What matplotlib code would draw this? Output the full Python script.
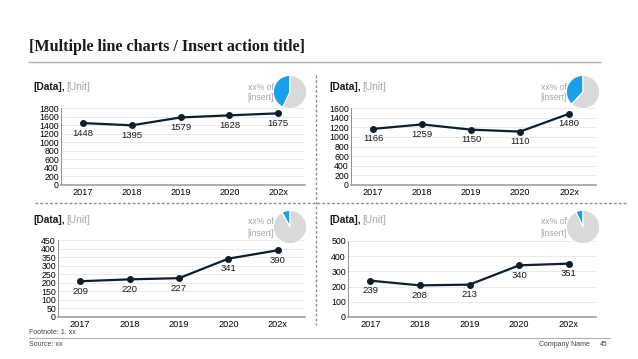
import matplotlib
matplotlib.use("Agg")
import matplotlib.pyplot as plt
from matplotlib.lines import Line2D

plt.rcParams['font.family'] = ['Liberation Sans', 'DejaVu Sans']

W, H = 638, 359

years = ["2017", "2018", "2019", "2020", "202x"]
vals_a = [1448, 1395, 1579, 1628, 1675]
vals_b = [1166, 1259, 1150, 1110, 1480]
vals_c = [209, 220, 227, 341, 390]
vals_d = [239, 208, 213, 340, 351]
ticks_a = [0, 200, 400, 600, 800, 1000, 1200, 1400, 1600, 1800]
ticks_b = [0, 200, 400, 600, 800, 1000, 1200, 1400, 1600]
ticks_c = [0, 50, 100, 150, 200, 250, 300, 350, 400, 450]
ticks_d = [0, 100, 200, 300, 400, 500]
pie_share = [0.43, 0.38, 0.08, 0.07]

NAVY = "#0e1e30"
BLUE = "#1a9fea"
LGRAY = "#d9d9d9"
TGRAY = "#a6a6a6"


def px(x, y, w, h):
    # pixel box (top-left origin) -> figure fraction
    return [x / W, 1 - (y + h) / H, w / W, h / H]


fig = plt.figure(figsize=(W / 100, H / 100), dpi=100)

fig.text(29 / W, 1 - 47 / H, "[Multiple line charts / Insert action title]",
         family="Liberation Serif", fontweight="bold", fontsize=11.6,
         va="center", ha="left", color="#1a1a1a")
fig.add_artist(Line2D([29 / W, 600 / W], [1 - 62 / H, 1 - 62 / H],
                      transform=fig.transFigure, color="#b0b0b0", lw=1))

# dashed separators
fig.add_artist(Line2D([316 / W, 316 / W], [1 - 75 / H, 1 - 325 / H],
                      transform=fig.transFigure, color="#8c8c8c", lw=1,
                      linestyle=(0, (2, 1.5))))
fig.add_artist(Line2D([35 / W, 628 / W], [1 - 203 / H, 1 - 203 / H],
                      transform=fig.transFigure, color="#8c8c8c", lw=1,
                      linestyle=(0, (2, 1.5))))

panels = [
    (vals_a, ticks_a, (61, 108, 244, 77), (33, 87), (290, 92), pie_share[0]),
    (vals_b, ticks_b, (351, 108, 245, 77), (329, 87), (583, 92), pie_share[1]),
    (vals_c, ticks_c, (58, 240, 247, 77), (33, 220), (290, 227), pie_share[2]),
    (vals_d, ticks_d, (348, 241, 248, 76), (329, 220), (583, 227), pie_share[3]),
]

for vals, ticks, box, head, pc, share in panels:
    ax = fig.add_axes(px(*box))
    x = range(len(years))
    ax.plot(x, vals, color=NAVY, lw=1.6, marker="o", ms=4, zorder=3)
    for i, v in enumerate(vals):
        ax.annotate(str(v), (i, v), xytext=(0, -4), textcoords="offset points",
                    ha="center", va="top", fontsize=6.8, color="#1a1a1a")
    ax.set_xlim(-0.45, len(years) - 0.45)
    ax.set_ylim(0, ticks[-1])
    ax.set_yticks(ticks)
    ax.set_xticks(list(x))
    ax.set_xticklabels(years)
    ax.tick_params(axis="y", length=0, labelsize=6.3, pad=1.5)
    ax.tick_params(axis="x", length=0, labelsize=6.6, pad=2)
    ax.grid(axis="y", color="#e6e6e6", lw=0.6)
    ax.set_axisbelow(True)
    for s in ["top", "right"]:
        ax.spines[s].set_visible(False)
    ax.spines["left"].set_color("#808080")
    ax.spines["left"].set_linewidth(0.6)
    ax.spines["bottom"].set_color("#a0a0a0")
    ax.spines["bottom"].set_linewidth(1.2)

    hx, hy = head
    fig.text(hx / W, 1 - hy / H, "[Data],", fontweight="bold", fontsize=7.3,
             ha="left", va="center", color="#1a1a1a")
    fig.text((hx + 33) / W, 1 - hy / H, "[Unit]", fontsize=7.3,
             ha="left", va="center", color=TGRAY)

    cx, cy = pc
    r = 17
    pax = fig.add_axes(px(cx - r, cy - r, 2 * r, 2 * r))
    pax.pie([share, 1 - share], colors=[BLUE, LGRAY], startangle=90,
            counterclock=True, wedgeprops=dict(linewidth=0.8, edgecolor="white"))
    pax.set_xlim(-1.02, 1.02)
    pax.set_ylim(-1.02, 1.02)
    pax.set_aspect("equal")
    fig.text((cx - 16) / W, 1 - (cy - 5) / H, "xx% of", fontsize=6.2,
             ha="right", va="center", color=TGRAY)
    fig.text((cx - 16) / W, 1 - (cy + 6) / H, "[insert]", fontsize=6.2,
             ha="right", va="center", color=TGRAY)

fig.text(29 / W, 1 - 332 / H, "Footnote: 1. xx", fontsize=5.0,
         ha="left", va="center", color="#404040")
fig.add_artist(Line2D([29 / W, 610 / W], [1 - 338 / H, 1 - 338 / H],
                      transform=fig.transFigure, color="#b0b0b0", lw=0.8))
fig.text(29 / W, 1 - 345 / H, "Source: xx", fontsize=5.0,
         ha="left", va="center", color="#404040")
fig.text(590 / W, 1 - 345 / H, "Company Name", fontsize=5.0,
         ha="right", va="center", color="#404040")
fig.text(608 / W, 1 - 345 / H, "45", fontsize=5.0,
         ha="right", va="center", color="#404040")

fig.savefig("out.png", dpi=100)
